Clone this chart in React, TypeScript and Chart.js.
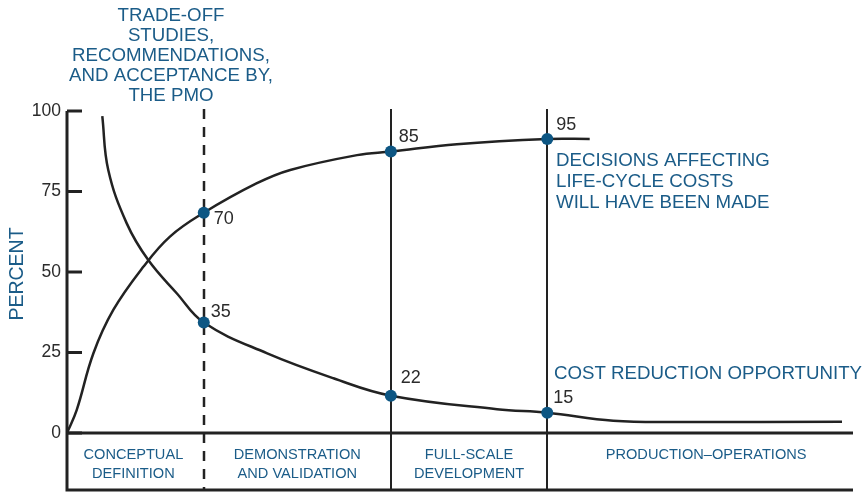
import React, { useEffect, useRef } from "react";
import { Chart, registerables } from "chart.js";

Chart.register(...registerables);

// ---- data ----
const phaseBounds = [0, 17.4, 41.2, 61.1, 100];
const phaseLabels = [
  ["CONCEPTUAL", "DEFINITION"],
  ["DEMONSTRATION", "AND VALIDATION"],
  ["FULL-SCALE", "DEVELOPMENT"],
  ["PRODUCTION–OPERATIONS"],
];
const yTicks = [0, 25, 50, 75, 100];

// life-cycle cost committed (rising curve)
const commitX = [0, 1.23, 3.35, 5.89, 9.71, 13.1, 17.4, 24.1, 28.4, 36.9, 41.2, 49.6, 61.1, 66.5];
const commitY = [0, 7.1, 24.7, 38.2, 51.6, 61.0, 68.4, 77.5, 81.7, 86.3, 87.4, 89.7, 91.3, 91.3];

// cost reduction opportunity (falling curve)
const costX = [4.49, 5.25, 7.6, 10.34, 13.96, 17.4, 25.4, 33.9, 41.2, 54.7, 61.1, 69.5, 78.0, 98.6];
const costY = [98.4, 81.7, 65.1, 53.7, 43.4, 34.3, 24.8, 17.0, 11.6, 7.4, 6.3, 3.8, 3.4, 3.5];

const markerX = [17.4, 17.4, 41.2, 41.2, 61.1, 61.1];
const markerY = [68.4, 34.3, 87.4, 11.6, 91.3, 6.3];
const markerLabels = ["70", "35", "85", "22", "95", "15"];
const markerLabelOffsets = [
  [10, 6],
  [7, -11],
  [8, -15],
  [10, -18],
  [9, -14],
  [6, -15],
];

const topNote = ["TRADE-OFF", "STUDIES,", "RECOMMENDATIONS,", "AND ACCEPTANCE BY,", "THE PMO"];
const decisionNote = ["DECISIONS AFFECTING", "LIFE-CYCLE COSTS", "WILL HAVE BEEN MADE"];
const costNote = "COST REDUCTION OPPORTUNITY";
const yTitle = "PERCENT";

const FONT = "'Liberation Sans', Arial, Helvetica, sans-serif";
const BLUE = "#1b5c88";
const DARK = "#222222";
const TEXT = "#2b2b2b";

const drawPlugin = {
  id: "lcc",
  beforeDatasetsDraw(chart: any) {
    const { ctx, chartArea, scales } = chart;
    const xs = scales.x;
    const ys = scales.y;
    const left = chartArea.left;
    const right = chartArea.right;
    const y0 = ys.getPixelForValue(0);
    const boxBottom = 490;
    ctx.save();
    ctx.strokeStyle = DARK;
    ctx.lineCap = "butt";
    for (let i = 1; i < phaseBounds.length - 1; i++) {
      const px = Math.round(xs.getPixelForValue(phaseBounds[i]));
      ctx.beginPath();
      if (i === 1) {
        ctx.setLineDash([10, 8]);
        ctx.lineWidth = 2.5;
      } else {
        ctx.setLineDash([]);
        ctx.lineWidth = 2;
      }
      ctx.moveTo(px, chartArea.top - 2);
      ctx.lineTo(px, boxBottom);
      ctx.stroke();
    }
    ctx.setLineDash([]);
    ctx.lineWidth = 3;
    ctx.beginPath();
    ctx.moveTo(left, chartArea.top);
    ctx.lineTo(left, boxBottom + 1.5);
    ctx.moveTo(left, y0);
    ctx.lineTo(right, y0);
    ctx.moveTo(left, boxBottom);
    ctx.lineTo(right, boxBottom);
    ctx.stroke();
    yTicks.forEach((v) => {
      const py = ys.getPixelForValue(v);
      ctx.beginPath();
      ctx.moveTo(left, py);
      ctx.lineTo(left + 15, py);
      ctx.stroke();
    });
    ctx.restore();
  },
  afterDraw(chart: any) {
    const { ctx, chartArea, scales } = chart;
    const xs = scales.x;
    const ys = scales.y;
    ctx.save();
    ctx.fillStyle = BLUE;
    ctx.font = `14.6px ${FONT}`;
    ctx.textAlign = "center";
    ctx.textBaseline = "middle";
    phaseLabels.forEach((lines, i) => {
      const cx = (xs.getPixelForValue(phaseBounds[i]) + xs.getPixelForValue(phaseBounds[i + 1])) / 2;
      lines.forEach((t, j) => ctx.fillText(t, cx + (i === 3 ? 6 : i === 0 ? -2 : 0), 455 + j * 19));
    });
    ctx.font = `18.7px ${FONT}`;
    topNote.forEach((t, j) => ctx.fillText(t, 171, 16 + j * 20));
    ctx.textAlign = "left";
    decisionNote.forEach((t, j) => ctx.fillText(t, 556, 161 + j * 20.7));
    ctx.fillText(costNote, 554, 374);
    ctx.fillStyle = TEXT;
    ctx.font = `18px ${FONT}`;
    markerLabels.forEach((t, i) => {
      const px = xs.getPixelForValue(markerX[i]);
      const py = ys.getPixelForValue(markerY[i]);
      ctx.fillText(t, px + markerLabelOffsets[i][0], py + markerLabelOffsets[i][1]);
    });
    ctx.fillStyle = BLUE;
    ctx.font = `19.5px ${FONT}`;
    ctx.textAlign = "center";
    ctx.translate(18, (chartArea.top + chartArea.bottom) / 2 + 2);
    ctx.rotate(-Math.PI / 2);
    ctx.fillText(yTitle, 0, 0);
    ctx.restore();
  },
};

export default function App() {
  const ref = useRef<HTMLCanvasElement | null>(null);
  useEffect(() => {
    if (!ref.current) return;
    const chart = new Chart(ref.current, {
      type: "scatter",
      data: {
        datasets: [
          {
            data: markerX.map((x, i) => ({ x, y: markerY[i] })),
            showLine: false,
            pointRadius: 6,
            pointBackgroundColor: "#0d5683",
            pointBorderWidth: 0,
            order: 0,
          },
          {
            data: commitX.map((x, i) => ({ x, y: commitY[i] })),
            showLine: true,
            borderColor: DARK,
            borderWidth: 2.5,
            pointRadius: 0,
            tension: 0.4,
            order: 1,
          },
          {
            data: costX.map((x, i) => ({ x, y: costY[i] })),
            showLine: true,
            borderColor: DARK,
            borderWidth: 2.5,
            pointRadius: 0,
            tension: 0.4,
            order: 1,
          },
        ],
      } as any,
      options: {
        animation: false,
        responsive: true,
        maintainAspectRatio: false,
        layout: { padding: { left: 0, top: 111, right: 15, bottom: 59 } },
        plugins: { legend: { display: false }, tooltip: { enabled: false } },
        scales: {
          x: { type: "linear", min: 0, max: 100, display: false },
          y: {
            min: 0,
            max: 100,
            afterFit: (s: any) => {
              s.width = 67;
            },
            afterBuildTicks: (s: any) => {
              s.ticks = yTicks.map((v) => ({ value: v }));
            },
            grid: { display: false, drawTicks: false },
            border: { display: false },
            ticks: {
              padding: 6,
              color: TEXT,
              font: { size: 17.5, family: FONT },
            },
          },
        },
      } as any,
      plugins: [drawPlugin],
    });
    return () => chart.destroy();
  }, []);
  return (
    <div style={{ position: "fixed", left: 0, top: 0, width: 868, height: 492, background: "#fff" }}>
      <canvas ref={ref} />
    </div>
  );
}
